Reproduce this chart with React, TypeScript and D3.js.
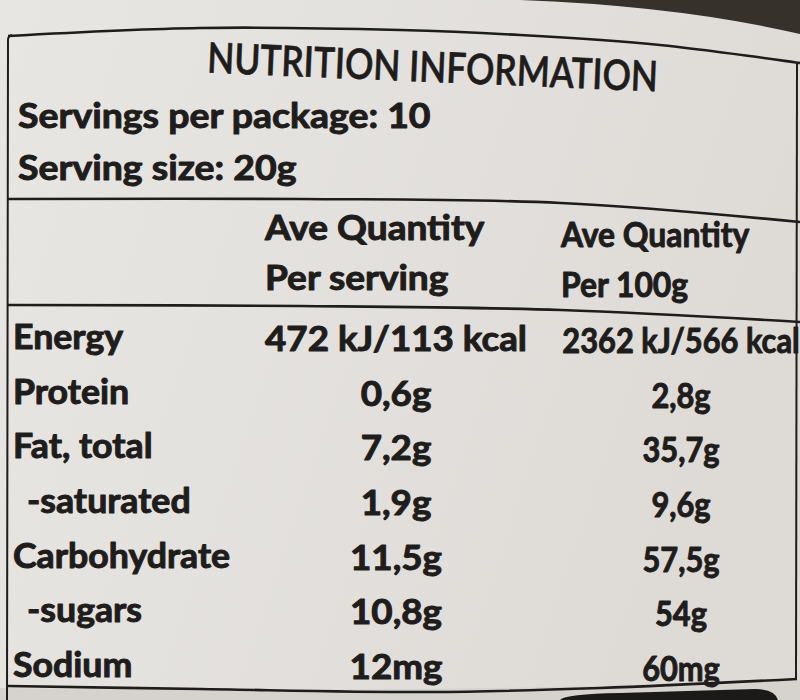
import React, { useRef, useEffect } from "react";
import * as d3 from "d3";

// label content
const title = "NUTRITION INFORMATION";
const servingsPerPackage = 10;
const servingSize = "20g";
const columnHeads = [
  ["Ave Quantity", "Per serving"],
  ["Ave Quantity", "Per 100g"],
];
const nutrients = [
  "Energy",
  "Protein",
  "Fat, total",
  "-saturated",
  "Carbohydrate",
  "-sugars",
  "Sodium",
];
const perServing = ["472 kJ/113 kcal", "0,6g", "7,2g", "1,9g", "11,5g", "10,8g", "12mg"];
const per100g = ["2362 kJ/566 kcal", "2,8g", "35,7g", "9,6g", "57,5g", "54g", "60mg"];

const width = 800;
const height = 700;
const ink = "#1f1d1c";
const font = "Lato, 'Open Sans', sans-serif";

const App = () => {
  const svgRef = useRef(null);

  useEffect(() => {
    const svg = d3.select(svgRef.current);
    svg.selectAll("*").remove(); //clear

    const defs = svg.append("defs");
    const paper = defs
      .append("linearGradient")
      .attr("id", "paper")
      .attr("x1", 0)
      .attr("x2", 1)
      .attr("y1", 0)
      .attr("y2", 0.3);
    paper.append("stop").attr("offset", 0).attr("stop-color", "#e8e6e3");
    paper.append("stop").attr("offset", 1).attr("stop-color", "#dedbd7");

    svg.append("rect").attr("width", width).attr("height", height).attr("fill", "url(#paper)");

    // dark background behind the jar, top right
    svg
      .append("path")
      .attr("d", "M520,0 Q680,6 800,34 L800,0 Z")
      .attr("fill", "#37312c");
    // paper below the label
    svg
      .append("path")
      .attr("d", "M0,688 Q430,694 800,680 L800,700 L0,700 Z")
      .attr("fill", "#d6d3cf");
    // dark rim bottom right
    svg
      .append("path")
      .attr("d", "M560,700 Q565,694 620,693 L755,689 Q775,689 778,700 Z")
      .attr("fill", "#1c1a19");

    const line = d3.line().curve(d3.curveCatmullRom);
    const rules = [
      [[8, 36], [200, 28], [400, 30], [520, 35], [660, 45], [800, 63]],
      [[8, 199], [300, 199], [561, 203], [800, 222]],
      [[8, 305], [300, 306], [561, 310], [800, 322]],
      [[8, 686], [200, 689], [430, 692], [600, 688], [797, 679]],
    ];
    rules.forEach((pts) => {
      svg
        .append("path")
        .attr("d", line(pts))
        .attr("fill", "none")
        .attr("stroke", ink)
        .attr("stroke-width", 2.6);
    });
    // side borders
    svg
      .append("path")
      .attr("d", "M8,40 Q8,36 12,35 M8,40 L7,700")
      .attr("fill", "none")
      .attr("stroke", ink)
      .attr("stroke-width", 2);
    svg
      .append("path")
      .attr("d", "M797,62 L796,679")
      .attr("fill", "none")
      .attr("stroke", ink)
      .attr("stroke-width", 2);

    const txt = (g, str, x, y, size, anchor = "start", sx = 1.04) =>
      g
        .append("text")
        .attr("transform", `translate(${x},${y}) scale(${sx},1)`)
        .attr("text-anchor", anchor)
        .attr("font-family", font)
        .attr("font-weight", 700)
        .attr("font-size", size)
        .attr("fill", ink)
        .attr("stroke", ink)
        .attr("stroke-width", 1)
        .attr("stroke-linejoin", "round")
        .text(str);

    // title, slightly tilted with the curve of the jar
    const tg = svg.append("g").attr("transform", "rotate(2.4, 432, 82)");
    txt(tg, title, 432, 82, 42, "middle", 0.84).attr("font-weight", 600).attr("stroke-width", 0.6);

    txt(svg, `Servings per package: ${servingsPerPackage}`, 18, 128, 35, "start", 1.07);
    txt(svg, `Serving size: ${servingSize}`, 18, 180, 35, "start", 1.07);

    // column headings (right column is narrower: the jar curves away)
    const headX = [265, 561];
    const headSx = [1.06, 0.91];
    const headY = [
      [240, 290],
      [247, 297],
    ];
    columnHeads.forEach((lines, c) => {
      lines.forEach((s, i) => txt(svg, s, headX[c], headY[c][i], 35, "start", headSx[c]));
    });

    // rows
    const y = d3.scaleLinear().domain([0, nutrients.length - 1]).range([349, 677]);
    const x = d3.scaleOrdinal().domain(["label", "serving", "100g"]).range([13, 396, 681]);

    nutrients.forEach((n, i) => {
      const sub = n.startsWith("-");
      txt(svg, n, x("label") + (sub ? 14 : 0), y(i), 35, "start", 1.02);
      txt(svg, perServing[i], x("serving"), y(i) + 2, 35, "middle", 1.05);
      txt(svg, per100g[i], x("100g"), y(i) + 4, 35, "middle", 0.88);
    });
  }, []);

  return (
    <svg
      ref={svgRef}
      width={width}
      height={height}
      style={{ position: "absolute", left: 0, top: 0 }}
    ></svg>
  );
};

export default App;
